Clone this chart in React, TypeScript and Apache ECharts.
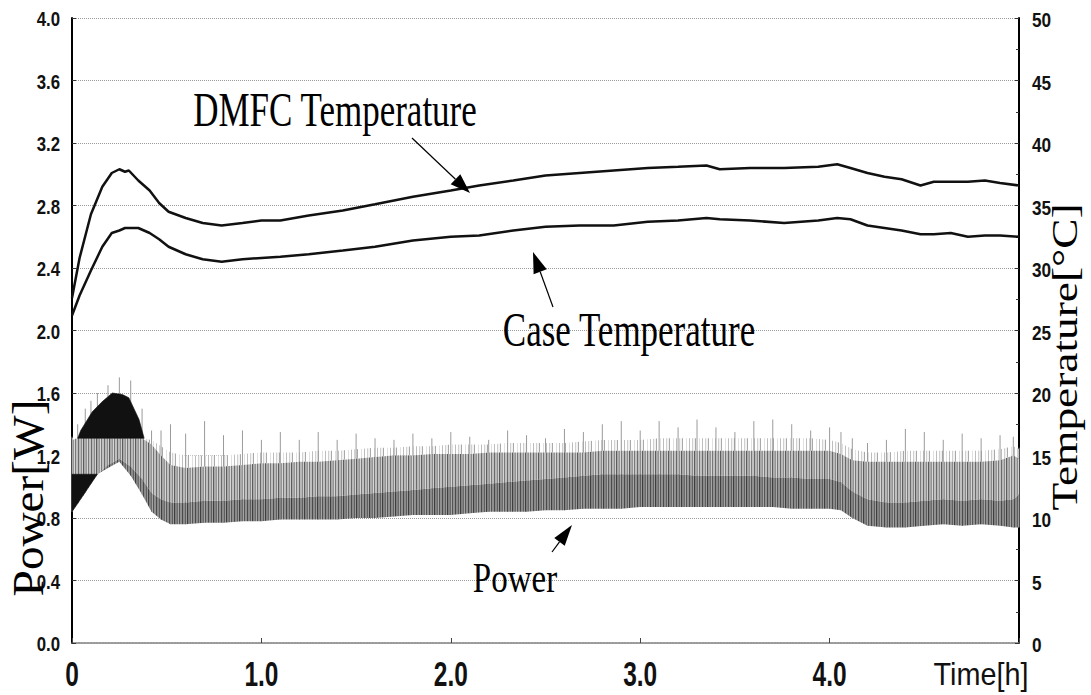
import React, { useEffect, useRef } from "react";
import * as echarts from "echarts";

// ---------- data ----------
const tempTime = [0, 0.04, 0.1, 0.16, 0.21, 0.25, 0.28, 0.3, 0.35, 0.41, 0.46, 0.51, 0.6, 0.69, 0.79, 0.9, 1.0, 1.1, 1.25, 1.43, 1.6, 1.8, 2.0, 2.15, 2.33, 2.5, 2.68, 2.86, 3.04, 3.2, 3.35, 3.42, 3.58, 3.76, 3.94, 4.04, 4.11, 4.2, 4.29, 4.38, 4.48, 4.55, 4.64, 4.73, 4.82, 4.9, 5.0];
const dmfcTemp = [27.6, 30.8, 34.3, 36.5, 37.6, 37.9, 37.7, 37.8, 37.0, 36.2, 35.2, 34.5, 34.0, 33.6, 33.4, 33.6, 33.8, 33.8, 34.2, 34.6, 35.1, 35.7, 36.2, 36.6, 37.0, 37.4, 37.6, 37.8, 38.0, 38.1, 38.2, 37.9, 38.0, 38.0, 38.1, 38.3, 38.0, 37.6, 37.3, 37.1, 36.6, 36.9, 36.9, 36.9, 37.0, 36.8, 36.6];
const caseTemp = [26.2, 27.8, 29.8, 31.7, 32.8, 33.0, 33.2, 33.2, 33.2, 32.8, 32.3, 31.7, 31.1, 30.7, 30.5, 30.7, 30.8, 30.9, 31.1, 31.4, 31.7, 32.2, 32.5, 32.6, 33.0, 33.3, 33.4, 33.4, 33.7, 33.8, 34.0, 33.9, 33.8, 33.6, 33.8, 34.0, 33.9, 33.4, 33.2, 33.0, 32.7, 32.7, 32.8, 32.5, 32.6, 32.6, 32.5];

const powerTime = [0, 0.03, 0.07, 0.1, 0.134, 0.19, 0.25, 0.31, 0.37, 0.42, 0.47, 0.52, 0.6, 0.7, 0.8, 0.9, 1.0, 1.1, 1.2, 1.3, 1.4, 1.5, 1.6, 1.7, 1.8, 1.9, 2.0, 2.1, 2.2, 2.3, 2.4, 2.5, 2.6, 2.7, 2.8, 2.9, 3.0, 3.1, 3.2, 3.3, 3.4, 3.5, 3.6, 3.7, 3.8, 3.9, 4.0, 4.06, 4.12, 4.2, 4.3, 4.4, 4.5, 4.6, 4.7, 4.8, 4.9, 4.97, 5.0];
const powerLow = [0.84, 0.89, 0.96, 1.02, 1.08, 1.12, 1.16, 1.07, 0.95, 0.84, 0.79, 0.76, 0.76, 0.77, 0.77, 0.78, 0.78, 0.79, 0.79, 0.79, 0.79, 0.8, 0.8, 0.81, 0.82, 0.82, 0.82, 0.83, 0.84, 0.84, 0.84, 0.85, 0.85, 0.86, 0.86, 0.86, 0.87, 0.87, 0.87, 0.87, 0.87, 0.87, 0.87, 0.87, 0.86, 0.86, 0.86, 0.85, 0.8, 0.75, 0.74, 0.74, 0.75, 0.76, 0.75, 0.76, 0.75, 0.74, 0.74];
const powerCore = [0.84, 0.89, 0.96, 1.02, 1.08, 1.14, 1.18, 1.13, 1.05, 0.96, 0.92, 0.9, 0.9, 0.91, 0.91, 0.92, 0.92, 0.93, 0.93, 0.94, 0.94, 0.95, 0.96, 0.97, 0.98, 0.99, 1.0, 1.01, 1.02, 1.03, 1.04, 1.05, 1.06, 1.07, 1.08, 1.08, 1.08, 1.08, 1.08, 1.07, 1.07, 1.07, 1.07, 1.06, 1.06, 1.05, 1.05, 1.03, 0.97, 0.92, 0.9, 0.9, 0.91, 0.92, 0.91, 0.92, 0.91, 0.92, 0.95];
const powerHigh = [1.3, 1.31, 1.31, 1.31, 1.31, 1.31, 1.31, 1.31, 1.31, 1.27, 1.2, 1.14, 1.12, 1.13, 1.13, 1.14, 1.15, 1.15, 1.16, 1.16, 1.17, 1.18, 1.19, 1.2, 1.2, 1.21, 1.21, 1.21, 1.22, 1.22, 1.22, 1.22, 1.22, 1.22, 1.23, 1.23, 1.23, 1.23, 1.23, 1.23, 1.23, 1.23, 1.23, 1.23, 1.23, 1.23, 1.23, 1.21, 1.17, 1.16, 1.16, 1.16, 1.16, 1.16, 1.16, 1.16, 1.17, 1.2, 1.18];
const powerFuzz = [1.31, 1.31, 1.31, 1.31, 1.31, 1.31, 1.31, 1.31, 1.31, 1.3, 1.26, 1.22, 1.2, 1.2, 1.2, 1.21, 1.22, 1.22, 1.22, 1.23, 1.23, 1.24, 1.25, 1.25, 1.26, 1.26, 1.27, 1.27, 1.27, 1.28, 1.28, 1.28, 1.28, 1.29, 1.3, 1.3, 1.3, 1.31, 1.31, 1.31, 1.31, 1.31, 1.31, 1.31, 1.31, 1.31, 1.3, 1.28, 1.24, 1.22, 1.22, 1.23, 1.23, 1.23, 1.23, 1.23, 1.24, 1.26, 1.24];
const powerPeak = [1.32, 1.4, 1.5, 1.55, 1.6, 1.65, 1.7, 1.68, 1.5, 1.36, 1.36, 1.4, 1.34, 1.42, 1.33, 1.36, 1.3, 1.35, 1.3, 1.35, 1.3, 1.34, 1.31, 1.3, 1.34, 1.31, 1.35, 1.32, 1.3, 1.36, 1.33, 1.31, 1.37, 1.35, 1.4, 1.42, 1.36, 1.42, 1.38, 1.43, 1.38, 1.35, 1.42, 1.43, 1.4, 1.36, 1.38, 1.35, 1.31, 1.28, 1.3, 1.37, 1.35, 1.3, 1.34, 1.31, 1.33, 1.32, 1.25];

// dark burst at start-up
const burstTime = [0.03, 0.046, 0.107, 0.16, 0.213, 0.266, 0.3, 0.354, 0.381];
const burstBase = [1.31, 1.31, 1.31, 1.31, 1.31, 1.31, 1.31, 1.31, 1.31];
const burstTop = [1.31, 1.36, 1.48, 1.545, 1.6, 1.59, 1.57, 1.43, 1.31];
const triTime = [0, 0.134];
const triLow = [0.84, 1.08];
const triTop = [1.08, 1.08];

// axes / tick labels
const xTickValues = [0, 1, 2, 3, 4];
const xTickLabels = ["0", "1.0", "2.0", "3.0", "4.0"];
const powerTickValues = [0, 0.4, 0.8, 1.2, 1.6, 2.0, 2.4, 2.8, 3.2, 3.6, 4.0];
const powerTickLabels = ["0.0", "0.4", "0.8", "1.2", "1.6", "2.0", "2.4", "2.8", "3.2", "3.6", "4.0"];
const tempTickValues = [0, 5, 10, 15, 20, 25, 30, 35, 40, 45, 50];
const tempTickLabels = ["0", "5", "10", "15", "20", "25", "30", "35", "40", "45", "50"];

const SANS = "'Liberation Sans', Arial, sans-serif";
const SERIF = "'Liberation Serif', 'Times New Roman', serif";

// vertical-hatch texture like the scanned oscilloscope trace
function stripeCanvas(shades: string[], widths: number[]) {
  const total = widths.reduce((a, b) => a + b, 0);
  const c = document.createElement("canvas");
  c.width = total;
  c.height = 4;
  const ctx = c.getContext("2d")!;
  let x = 0;
  shades.forEach((s, i) => {
    ctx.fillStyle = s;
    ctx.fillRect(x, 0, widths[i], 4);
    x += widths[i];
  });
  return c;
}

function bandSeries(name: string, xs: number[], lo: number[], hi: number[], fill: any, z: number, stroke?: string) {
  return {
    type: "custom",
    name,
    yAxisIndex: 0,
    silent: true,
    z,
    encode: { x: 0, y: [1, 2] },
    data: xs.map((t, i) => [t, lo[i], hi[i]]),
    renderItem: (params: any, api: any) => {
      if (params.dataIndex !== 0) return null;
      const top: number[][] = [];
      const bot: number[][] = [];
      for (let i = 0; i < xs.length; i++) {
        top.push(api.coord([api.value(0, i), api.value(2, i)]));
        bot.push(api.coord([api.value(0, i), api.value(1, i)]));
      }
      return { type: "polygon", shape: { points: top.concat(bot.reverse()) }, style: { fill, stroke: stroke || "none", lineWidth: stroke ? 0.6 : 0 } };
    },
  };
}

function labelSeries(name: string, yAxisIndex: number, values: number[], labels: string[], kind: "x" | "left" | "right") {
  return {
    type: "custom",
    name,
    yAxisIndex,
    silent: true,
    z: 50,
    encode: { x: 0, y: 1 },
    data: values.map((v) => (kind === "x" ? [v, 0] : [0, v])),
    renderItem: (params: any, api: any) => {
      const text = labels[params.dataIndex];
      if (kind === "x") {
        const p = api.coord([api.value(0), 0]);
        return { type: "text", x: p[0], y: p[1] + 31, scaleX: 0.7, style: { text, font: `bold 35px ${SANS}`, fill: "#111", textAlign: "center", textVerticalAlign: "middle" } };
      }
      const p = api.coord([kind === "left" ? 0 : 5, api.value(1)]);
      if (kind === "left") {
        return { type: "text", x: p[0] - 12, y: p[1] + 1, scaleX: 0.8, style: { text, font: `bold 21px ${SANS}`, fill: "#111", textAlign: "right", textVerticalAlign: "middle" } };
      }
      return { type: "text", x: p[0] + 13, y: p[1] + 2, scaleX: 0.82, style: { text, font: `bold 21px ${SANS}`, fill: "#111", textAlign: "left", textVerticalAlign: "middle" } };
    },
  };
}

function arrow(tail: number[], tip: number[], len: number, half: number) {
  const dx = tip[0] - tail[0];
  const dy = tip[1] - tail[1];
  const d = Math.hypot(dx, dy);
  const ux = dx / d, uy = dy / d;
  const bx = tip[0] - ux * len, by = tip[1] - uy * len;
  const px = -uy * half, py = ux * half;
  return [
    { type: "line", shape: { x1: tail[0], y1: tail[1], x2: bx, y2: by }, style: { stroke: "#000", lineWidth: 1.2 }, z: 100 },
    { type: "polygon", shape: { points: [tip, [bx + px, by + py], [bx - px, by - py]] }, style: { fill: "#000" }, z: 100 },
  ];
}

export default function App() {
  const ref = useRef<HTMLDivElement>(null);
  useEffect(() => {
    const chart = echarts.init(ref.current!, null, { renderer: "svg" });
    const coreTex = stripeCanvas(["#4a4a4a", "#8a8a8a", "#5e5e5e", "#9a9a9a", "#3e3e3e", "#808080", "#6a6a6a", "#a5a5a5", "#545454", "#909090"], [1, 2, 1, 1, 1, 2, 1, 1, 1, 2]);
    const upperTex = stripeCanvas(["#6a6a6a", "#b8b8b8", "#8a8a8a", "#cfcfcf", "#5c5c5c", "#aaaaaa", "#959595", "#d6d6d6", "#787878", "#c0c0c0"], [1, 2, 1, 1, 1, 2, 1, 1, 1, 2]);
    const fuzzTex = stripeCanvas(["#bdbdbd", "#ffffff", "#d0d0d0", "#f2f2f2", "#a8a8a8", "#ffffff", "#e0e0e0", "#ffffff"], [1, 2, 1, 2, 1, 3, 1, 2]);
    const lineBase = { type: "line", showSymbol: false, symbol: "none", silent: true };
    const option: any = {
      animation: false,
      backgroundColor: "#fff",
      grid: { left: 72, right: 72, top: 18, bottom: 52 },
      xAxis: {
        type: "value",
        min: 0,
        max: 5,
        interval: 1,
        axisLine: { show: true, lineStyle: { color: "#7a7a7a", width: 1.5, type: [2, 1] } },
        axisTick: { show: true, inside: true, length: 5, lineStyle: { color: "#444" } },
        splitLine: { show: false },
        axisLabel: { show: false },
      },
      yAxis: [
        {
          type: "value",
          position: "left",
          min: 0,
          max: 4,
          interval: 0.4,
          axisLine: { show: true, lineStyle: { color: "#000", width: 2 } },
          axisTick: { show: true, inside: true, length: 4, lineStyle: { color: "#333" } },
          splitLine: { show: true, showMinLine: false, showMaxLine: true, lineStyle: { color: "#9a9a9a", type: "dotted", width: 1 } },
          axisLabel: { show: false },
        },
        {
          type: "value",
          position: "right",
          min: 0,
          max: 50,
          interval: 5,
          axisLine: { show: true, lineStyle: { color: "#000", width: 2 } },
          axisTick: { show: true, inside: true, length: 4, lineStyle: { color: "#333" } },
          minorTick: { show: true, splitNumber: 2, length: 3, lineStyle: { color: "#333" } },
          splitLine: { show: false },
          axisLabel: { show: false },
        },
      ],
      series: [
        bandSeries("powerFuzz", powerTime, powerHigh, powerFuzz, { image: fuzzTex, repeat: "repeat" }, 1),
        {
          type: "custom",
          name: "powerSpikes",
          yAxisIndex: 0,
          silent: true,
          z: 2,
          encode: { x: 0, y: [1, 2] },
          data: powerTime.map((t, i) => [t, powerLow[i], powerPeak[i]]),
          renderItem: (params: any, api: any) => {
            const t = api.value(0);
            const p1 = api.coord([t, api.value(1)]);
            const p2 = api.coord([t, api.value(2)]);
            return { type: "line", shape: { x1: p1[0], y1: p1[1], x2: p2[0], y2: p2[1] }, style: { stroke: "#9a9a9a", lineWidth: 1 } };
          },
        },
        bandSeries("powerUpper", powerTime, powerCore, powerHigh, { image: upperTex, repeat: "repeat" }, 3),
        bandSeries("powerCore", powerTime, powerLow, powerCore, { image: coreTex, repeat: "repeat" }, 3),
        bandSeries("powerBurst", burstTime, burstBase, burstTop, "#111", 4, "#111"),
        bandSeries("powerStart", triTime, triLow, triTop, "#111", 4, "#111"),
        { ...lineBase, name: "DMFC Temperature", yAxisIndex: 1, data: tempTime.map((t, i) => [t, dmfcTemp[i]]), lineStyle: { color: "#111", width: 2.5 }, z: 5 },
        { ...lineBase, name: "Case Temperature", yAxisIndex: 1, data: tempTime.map((t, i) => [t, caseTemp[i]]), lineStyle: { color: "#111", width: 2.5 }, z: 5 },
        labelSeries("xLabels", 0, xTickValues, xTickLabels, "x"),
        labelSeries("powerLabels", 0, powerTickValues, powerTickLabels, "left"),
        labelSeries("tempLabels", 1, tempTickValues, tempTickLabels, "right"),
      ],
      graphic: [
        { type: "text", x: 335, y: 109, scaleY: 1.4, z: 100, style: { text: "DMFC Temperature", font: `35px ${SERIF}`, fill: "#000", textAlign: "center", textVerticalAlign: "middle" } },
        { type: "text", x: 629, y: 329, scaleY: 1.4, z: 100, style: { text: "Case Temperature", font: `35px ${SERIF}`, fill: "#000", textAlign: "center", textVerticalAlign: "middle" } },
        { type: "text", x: 515, y: 577, scaleY: 1.3, z: 100, style: { text: "Power", font: `33px ${SERIF}`, fill: "#000", textAlign: "center", textVerticalAlign: "middle" } },
        { type: "text", x: 28, y: 498, rotation: Math.PI / 2, scaleX: 1.05, z: 100, style: { text: "Power[W]", font: `45px ${SERIF}`, fill: "#000", textAlign: "center", textVerticalAlign: "middle" } },
        { type: "text", x: 1065, y: 357, rotation: Math.PI / 2, scaleX: 1.26, z: 100, style: { text: "Temperature[°C]", font: `36px ${SERIF}`, fill: "#000", textAlign: "center", textVerticalAlign: "middle" } },
        { type: "text", x: 981, y: 673, scaleX: 0.9, z: 100, style: { text: "Time[h]", font: `32px ${SANS}`, fill: "#111", textAlign: "center", textVerticalAlign: "middle" } },
        ...arrow([412, 138], [470, 193], 20, 7),
        ...arrow([553, 307], [533, 252], 21, 7),
        ...arrow([552, 552], [572, 525], 21, 6.5),
      ],
    };
    chart.setOption(option);
    return () => chart.dispose();
  }, []);
  return <div ref={ref} style={{ position: "absolute", left: 0, top: 0, width: 1091, height: 695, background: "#fff" }} />;
}
